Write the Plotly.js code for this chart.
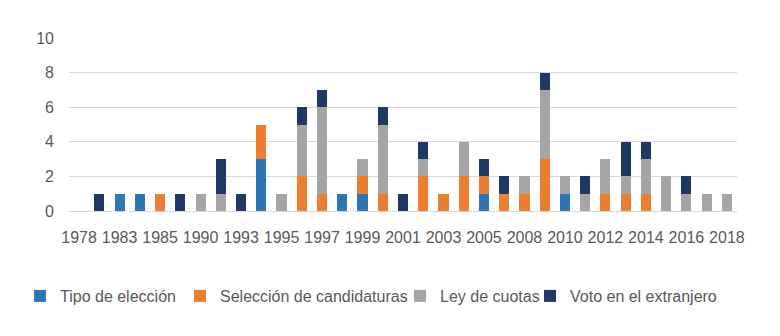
<!DOCTYPE html>
<html>
<head>
<meta charset="utf-8">
<script src="https://cdn.plot.ly/plotly-3.0.1.min.js"></script>
<style>html,body{margin:0;padding:0;background:#fff;}#chart{width:780px;height:336px;}</style>
</head>
<body>
<div id="chart"></div>
<script>
const years = ["1978","1982","1983","1984","1985","1988","1990","1991","1993","1994","1995","1996","1997","1998","1999","2000","2001","2002","2003","2004","2005","2007","2008","2009","2010","2011","2012","2013","2014","2015","2016","2017","2018"];
const tickYears = ["1978","1983","1985","1990","1993","1995","1997","1999","2001","2003","2005","2008","2010","2012","2014","2016","2018"];
const tipoEleccion   = [0,0,1,1,0,0,0,0,0,3,0,0,0,1,1,0,0,0,0,0,1,0,0,0,1,0,0,0,0,0,0,0,0];
const seleccion      = [0,0,0,0,1,0,0,0,0,2,0,2,1,0,1,1,0,2,1,2,1,1,1,3,0,0,1,1,1,0,0,0,0];
const leyCuotas      = [0,0,0,0,0,0,1,1,0,0,1,3,5,0,1,4,0,1,0,2,0,0,1,4,1,1,2,1,2,2,1,1,1];
const votoExtranjero = [0,1,0,0,0,1,0,2,1,0,0,1,1,0,0,1,1,1,0,0,1,1,0,1,0,1,0,2,1,0,1,0,0];
const seriesNames = ["Tipo de elección","Selección de candidaturas","Ley de cuotas","Voto en el extranjero"];
const colors = ["#2E75B6","#ED7D31","#A5A5A5","#1F3864"];
const legendIds = ["legend","legend2","legend3","legend4"];
const data = [tipoEleccion, seleccion, leyCuotas, votoExtranjero].map((v,i)=>({
  type:"bar", x:years, y:v, name:seriesNames[i],
  marker:{color:colors[i]}, legend:legendIds[i]
}));
const textStarts = [60, 220, 440, 570];
const legendBase = {orientation:"h", xref:"container", yref:"container", xanchor:"left", yanchor:"middle",
  y:1-296/336, bgcolor:"rgba(0,0,0,0)", borderwidth:0, itemwidth:30,
  font:{size:16,color:"#595959"}};
const layout = {
  width:780, height:336,
  margin:{l:69,r:43,t:38,b:125},
  barmode:"stack", bargap:0.5,
  paper_bgcolor:"#ffffff", plot_bgcolor:"#ffffff",
  font:{family:"Liberation Sans, Arial, sans-serif", size:16, color:"#595959"},
  xaxis:{type:"category", tickmode:"array", tickvals:tickYears, ticktext:tickYears,
    showgrid:false, showline:true, linecolor:"#D9D9D9", linewidth:1, ticks:"", tickangle:0,
    ticklabelstandoff:12, tickfont:{size:16,color:"#595959"}},
  yaxis:{range:[0,10], dtick:2, showgrid:true, gridcolor:"#D9D9D9", gridwidth:1,
    zeroline:false, showline:false, ticks:"", ticklabelstandoff:14, tickfont:{size:16,color:"#595959"}},
  showlegend:true
};
legendIds.forEach((id,i)=>{
  layout[id] = Object.assign({}, legendBase, {x:(textStarts[i]-40)/780});
});
Plotly.newPlot("chart", data, layout, {displayModeBar:false, staticPlot:true});
</script>
</body>
</html>
